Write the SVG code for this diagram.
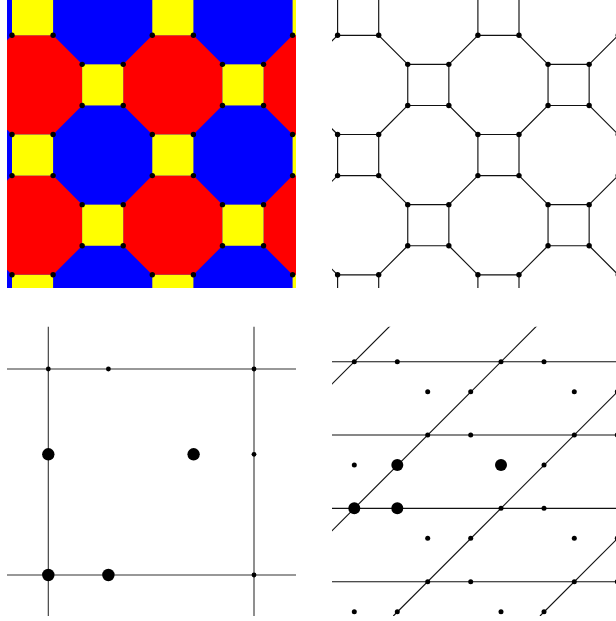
<svg xmlns="http://www.w3.org/2000/svg" width="616" height="621" viewBox="0 0 616 621">
<style>
.dot{fill:#000}
.edge{fill:none;stroke:#111;stroke-width:1.15}
.lat{fill:none;stroke:#333;stroke-width:1.1}
.oct{fill:#ff0000}
.sq{fill:#ffff00}
</style>
<defs>
<clipPath id="c1"><rect x="7" y="0" width="289" height="288"/></clipPath>
<clipPath id="c2"><rect x="6.4" y="0" width="290" height="288"/></clipPath>
<clipPath id="c3"><rect x="332" y="326.7" width="290" height="289.3"/></clipPath>
<polygon id="oct" points="-20.55,-49.61 20.55,-49.61 49.61,-20.55 49.61,20.55 20.55,49.61 -20.55,49.61 -49.61,20.55 -49.61,-20.55"/>
<rect id="sq" x="-20.55" y="-20.55" width="41.1" height="41.1"/>
<path id="cell" d="M-20.55,-20.55h41.1v41.1h-41.1z M-20.55,20.55l-29.06,29.06 M20.55,20.55l29.06,29.06"/>
<g id="verts" class="dot">
<circle cx="12" cy="35.3" r="2.7"/><circle cx="53.1" cy="35.3" r="2.7"/><circle cx="152.3" cy="35.3" r="2.7"/><circle cx="193.4" cy="35.3" r="2.7"/><circle cx="292.6" cy="35.3" r="2.7"/>
<circle cx="12" cy="134.5" r="2.7"/><circle cx="53.1" cy="134.5" r="2.7"/><circle cx="152.3" cy="134.5" r="2.7"/><circle cx="193.4" cy="134.5" r="2.7"/><circle cx="292.6" cy="134.5" r="2.7"/>
<circle cx="12" cy="175.6" r="2.7"/><circle cx="53.1" cy="175.6" r="2.7"/><circle cx="152.3" cy="175.6" r="2.7"/><circle cx="193.4" cy="175.6" r="2.7"/><circle cx="292.6" cy="175.6" r="2.7"/>
<circle cx="12" cy="274.8" r="2.7"/><circle cx="53.1" cy="274.8" r="2.7"/><circle cx="152.3" cy="274.8" r="2.7"/><circle cx="193.4" cy="274.8" r="2.7"/><circle cx="292.6" cy="274.8" r="2.7"/>
<circle cx="82.15" cy="64.35" r="2.7"/><circle cx="123.25" cy="64.35" r="2.7"/><circle cx="222.45" cy="64.35" r="2.7"/><circle cx="263.55" cy="64.35" r="2.7"/>
<circle cx="82.15" cy="105.45" r="2.7"/><circle cx="123.25" cy="105.45" r="2.7"/><circle cx="222.45" cy="105.45" r="2.7"/><circle cx="263.55" cy="105.45" r="2.7"/>
<circle cx="82.15" cy="204.65" r="2.7"/><circle cx="123.25" cy="204.65" r="2.7"/><circle cx="222.45" cy="204.65" r="2.7"/><circle cx="263.55" cy="204.65" r="2.7"/>
<circle cx="82.15" cy="245.75" r="2.7"/><circle cx="123.25" cy="245.75" r="2.7"/><circle cx="222.45" cy="245.75" r="2.7"/><circle cx="263.55" cy="245.75" r="2.7"/>
</g>
</defs>

<g id="panel-colored-tiling" clip-path="url(#c1)">
<rect x="7" y="0" width="289" height="288" fill="#0000ff"/>
<g class="oct">
<use href="#oct" x="32.55" y="84.9"/><use href="#oct" x="172.85" y="84.9"/><use href="#oct" x="313.15" y="84.9"/>
<use href="#oct" x="32.55" y="225.2"/><use href="#oct" x="172.85" y="225.2"/><use href="#oct" x="313.15" y="225.2"/>
</g>
<g class="sq">
<use href="#sq" x="32.55" y="14.75"/><use href="#sq" x="172.85" y="14.75"/><use href="#sq" x="313.15" y="14.75"/>
<use href="#sq" x="32.55" y="155.05"/><use href="#sq" x="172.85" y="155.05"/><use href="#sq" x="313.15" y="155.05"/>
<use href="#sq" x="32.55" y="295.35"/><use href="#sq" x="172.85" y="295.35"/><use href="#sq" x="313.15" y="295.35"/>
<use href="#sq" x="102.7" y="84.9"/><use href="#sq" x="243" y="84.9"/>
<use href="#sq" x="102.7" y="225.2"/><use href="#sq" x="243" y="225.2"/>
</g>
<use id="nodes-colored" href="#verts"/>
</g>

<g id="panel-graph-tiling" transform="translate(325.6,0)">
<g clip-path="url(#c2)">
<g id="connectors-tiling" class="edge">
<use href="#cell" x="32.55" y="14.75"/><use href="#cell" x="172.85" y="14.75"/><use href="#cell" x="313.15" y="14.75"/>
<use href="#cell" x="32.55" y="155.05"/><use href="#cell" x="172.85" y="155.05"/><use href="#cell" x="313.15" y="155.05"/>
<use href="#cell" x="32.55" y="295.35"/><use href="#cell" x="172.85" y="295.35"/><use href="#cell" x="313.15" y="295.35"/>
<use href="#cell" x="-37.6" y="84.9"/><use href="#cell" x="102.7" y="84.9"/><use href="#cell" x="243" y="84.9"/>
<use href="#cell" x="-37.6" y="225.2"/><use href="#cell" x="102.7" y="225.2"/><use href="#cell" x="243" y="225.2"/>
</g>
<use id="nodes-graph" href="#verts"/>
</g>
</g>

<g id="panel-square-lattice">
<g id="connectors-square" class="lat">
<line x1="48.3" y1="326.7" x2="48.3" y2="616"/>
<line x1="254" y1="326.7" x2="254" y2="616"/>
<line x1="7" y1="369" x2="296" y2="369"/>
<line x1="7" y1="575" x2="296" y2="575"/>
</g>
<g id="nodes-square" class="dot">
<circle cx="48.3" cy="369" r="2.4"/><circle cx="108.4" cy="369" r="2.4"/><circle cx="254" cy="369" r="2.4"/>
<circle cx="254" cy="454.3" r="2.4"/><circle cx="254" cy="575" r="2.4"/>
<circle cx="48.3" cy="454.3" r="6.2"/><circle cx="193.6" cy="454.3" r="6.2"/>
<circle cx="48.3" cy="575" r="6.2"/><circle cx="108.4" cy="575" r="6.2"/>
</g>
</g>

<g id="panel-oblique-lattice" clip-path="url(#c3)">
<g id="connectors-oblique" class="edge">
<line x1="332" y1="361.7" x2="620" y2="361.7"/>
<line x1="332" y1="435" x2="620" y2="435"/>
<line x1="332" y1="508.3" x2="620" y2="508.3"/>
<line x1="332" y1="581.7" x2="620" y2="581.7"/>
<line x1="396" y1="320" x2="100" y2="616"/>
<line x1="542.7" y1="320" x2="246.7" y2="616"/>
<line x1="689.3" y1="320" x2="393.3" y2="616"/>
<line x1="836" y1="320" x2="540" y2="616"/>
</g>
<g id="nodes-oblique" class="dot">
<circle cx="354.3" cy="361.7" r="2.5"/><circle cx="397.3" cy="361.7" r="2.5"/><circle cx="501" cy="361.7" r="2.5"/><circle cx="544" cy="361.7" r="2.5"/>
<circle cx="427.7" cy="391.7" r="2.5"/><circle cx="470.7" cy="391.7" r="2.5"/><circle cx="574.3" cy="391.7" r="2.5"/><circle cx="617.3" cy="391.7" r="2.5"/>
<circle cx="427.7" cy="435" r="2.5"/><circle cx="470.7" cy="435" r="2.5"/><circle cx="574.3" cy="435" r="2.5"/><circle cx="617.3" cy="435" r="2.5"/>
<circle cx="354.3" cy="465" r="2.5"/><circle cx="544" cy="465" r="2.5"/>
<circle cx="501" cy="508.3" r="2.5"/><circle cx="544" cy="508.3" r="2.5"/>
<circle cx="427.7" cy="538.3" r="2.5"/><circle cx="470.7" cy="538.3" r="2.5"/><circle cx="574.3" cy="538.3" r="2.5"/><circle cx="617.3" cy="538.3" r="2.5"/>
<circle cx="427.7" cy="581.7" r="2.5"/><circle cx="470.7" cy="581.7" r="2.5"/><circle cx="574.3" cy="581.7" r="2.5"/><circle cx="617.3" cy="581.7" r="2.5"/>
<circle cx="354.3" cy="611.7" r="2.5"/><circle cx="397.3" cy="611.7" r="2.5"/><circle cx="501" cy="611.7" r="2.5"/><circle cx="544" cy="611.7" r="2.5"/>
<circle cx="397.3" cy="465" r="6"/><circle cx="501" cy="465" r="6"/>
<circle cx="354.3" cy="508.3" r="6"/><circle cx="397.3" cy="508.3" r="6"/>
</g>
</g>
</svg>
